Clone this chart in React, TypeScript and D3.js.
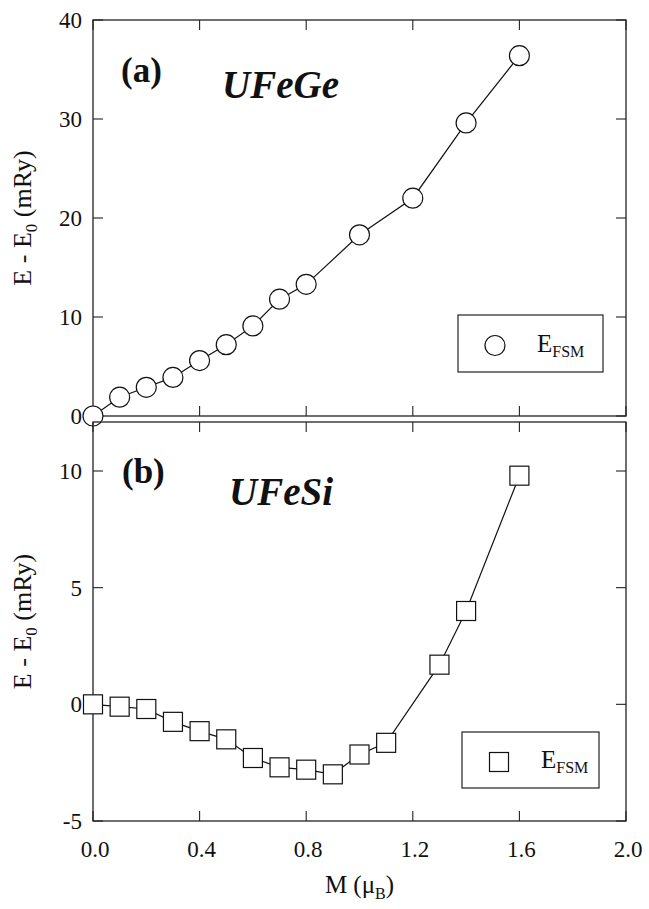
import * as d3 from 'd3';
import React, { useRef, useEffect } from 'react';

// UFeGe (a)
const magA = [0.0, 0.1, 0.2, 0.3, 0.4, 0.5, 0.6, 0.7, 0.8, 1.0, 1.2, 1.4, 1.6];
const energyA = [0.0, 1.9, 2.9, 3.9, 5.6, 7.2, 9.1, 11.8, 13.3, 18.3, 22.0, 29.6, 36.4];

// UFeSi (b)
const magB = [0.0, 0.1, 0.2, 0.3, 0.4, 0.5, 0.6, 0.7, 0.8, 0.9, 1.0, 1.1, 1.3, 1.4, 1.6];
const energyB = [0.0, -0.1, -0.2, -0.75, -1.15, -1.5, -2.3, -2.7, -2.8, -3.0, -2.15, -1.65, 1.7, 4.0, 9.8];

const xTicks = [0.0, 0.4, 0.8, 1.2, 1.6, 2.0];
const yTicksA = [0, 10, 20, 30, 40];
const yTicksB = [-5, 0, 5, 10];

const W = 649;
const H = 909;
const FONT = '"Liberation Serif", "Times New Roman", serif';

function FsmChart() {
  const ref = useRef<SVGSVGElement>(null);

  useEffect(() => {
    const svg = d3.select(ref.current);
    svg.selectAll('*').remove();

    const x = d3.scaleLinear().domain([0, 2]).range([93, 626]);

    const panels = [
      {
        mag: magA, energy: energyA, ticks: yTicksA,
        y: d3.scaleLinear().domain([0, 40]).range([416, 20]),
        tag: '(a)', name: 'UFeGe', marker: 'circle',
        tagPos: [121, 82], namePos: [222, 98],
        legend: { x: 458, y: 315, w: 145, h: 57 },
        xLabels: false,
      },
      {
        mag: magB, energy: energyB, ticks: yTicksB,
        y: d3.scaleLinear().domain([-5, 12.1]).range([821, 422]),
        tag: '(b)', name: 'UFeSi', marker: 'square',
        tagPos: [122, 483], namePos: [229, 505],
        legend: { x: 462, y: 732, w: 137, h: 56 },
        xLabels: true,
      },
    ];

    const tickLen = 10;

    panels.forEach((p) => {
      const [x0, x1] = x.range();
      const [y0, y1] = p.y.range();
      const g = svg.append('g');

      // frame
      g.append('rect')
        .attr('x', x0).attr('y', y1)
        .attr('width', x1 - x0).attr('height', y0 - y1)
        .attr('fill', 'none').attr('stroke', '#222').attr('stroke-width', 1.3);

      // x ticks (inside, top and bottom)
      xTicks.forEach((t) => {
        const px = x(t);
        g.append('line').attr('x1', px).attr('x2', px).attr('y1', y0).attr('y2', y0 - tickLen)
          .attr('stroke', '#222').attr('stroke-width', 1.1);
        g.append('line').attr('x1', px).attr('x2', px).attr('y1', y1).attr('y2', y1 + tickLen)
          .attr('stroke', '#222').attr('stroke-width', 1.1);
        if (p.xLabels) {
          g.append('text').attr('x', px + 2).attr('y', y0 + 36)
            .attr('text-anchor', 'middle')
            .style('font-family', FONT).style('font-size', '23px').attr('fill', '#111')
            .text(d3.format('.1f')(t));
        }
      });

      // y ticks (inside, left and right)
      p.ticks.forEach((t) => {
        const py = p.y(t);
        g.append('line').attr('x1', x0).attr('x2', x0 + tickLen).attr('y1', py).attr('y2', py)
          .attr('stroke', '#222').attr('stroke-width', 1.1);
        g.append('line').attr('x1', x1).attr('x2', x1 - tickLen).attr('y1', py).attr('y2', py)
          .attr('stroke', '#222').attr('stroke-width', 1.1);
        g.append('text').attr('x', 82).attr('y', py).attr('dy', '0.35em')
          .attr('text-anchor', 'end')
          .style('font-family', FONT).style('font-size', '23px').attr('fill', '#111')
          .text(t);
      });

      // y title
      const cy = (y0 + y1) / 2;
      const yt = g.append('text')
        .attr('transform', `translate(31, ${cy}) rotate(-90)`)
        .attr('text-anchor', 'middle')
        .style('font-family', FONT).style('font-size', '26px').attr('fill', '#111');
      yt.append('tspan').text('E - E');
      yt.append('tspan').attr('dy', 6).style('font-size', '17px').text('0');
      yt.append('tspan').attr('dy', -6).text(' (mRy)');

      // line
      const pts = p.mag.map((m, i) => [m, p.energy[i]] as [number, number]);
      const line = d3.line<[number, number]>().x((d) => x(d[0])).y((d) => p.y(d[1]));
      g.append('path').attr('d', line(pts)).attr('fill', 'none')
        .attr('stroke', '#111').attr('stroke-width', 1.2);

      // markers
      const drawMarker = (sel: any, cx: number, cyy: number) => {
        if (p.marker === 'circle') {
          sel.append('circle').attr('cx', cx).attr('cy', cyy).attr('r', 10)
            .attr('fill', '#fff').attr('stroke', '#111').attr('stroke-width', 1.2);
        } else {
          sel.append('rect').attr('x', cx - 9.5).attr('y', cyy - 9.5)
            .attr('width', 19).attr('height', 19)
            .attr('fill', '#fff').attr('stroke', '#111').attr('stroke-width', 1.2);
        }
      };
      pts.forEach((d) => drawMarker(g, x(d[0]), p.y(d[1])));

      // panel tag and compound
      g.append('text').attr('x', p.tagPos[0]).attr('y', p.tagPos[1])
        .style('font-family', FONT).style('font-size', '35px').style('font-weight', 'bold')
        .attr('fill', '#111').text(p.tag);
      g.append('text').attr('x', p.namePos[0]).attr('y', p.namePos[1])
        .style('font-family', FONT).style('font-size', '39px').style('font-weight', 'bold')
        .style('font-style', 'italic').attr('fill', '#111').text(p.name);

      // legend
      const L = p.legend;
      g.append('rect').attr('x', L.x).attr('y', L.y).attr('width', L.w).attr('height', L.h)
        .attr('fill', '#fff').attr('stroke', '#222').attr('stroke-width', 1.2);
      drawMarker(g, L.x + 37, L.y + L.h / 2 + 2);
      const lt = g.append('text').attr('x', L.x + 79).attr('y', L.y + L.h / 2 + 8)
        .style('font-family', FONT).style('font-size', '25px').attr('fill', '#111');
      lt.append('tspan').text('E');
      lt.append('tspan').attr('dy', 5).style('font-size', '16px').text('FSM');
    });

    // x axis title
    svg.append('text').attr('x', x(1.0)).attr('y', 893)
      .attr('text-anchor', 'middle')
      .style('font-family', FONT).style('font-size', '25px').attr('fill', '#111')
      .call((t) => {
        t.append('tspan').text('M (μ');
        t.append('tspan').attr('dy', 6).style('font-size', '16px').text('B');
        t.append('tspan').attr('dy', -6).text(')');
      });
  }, []);

  return (
    <svg ref={ref} width={W} height={H}
      style={{ position: 'absolute', left: 0, top: 0, background: '#fff' }} />
  );
}

export default function App() {
  return <FsmChart />;
}
